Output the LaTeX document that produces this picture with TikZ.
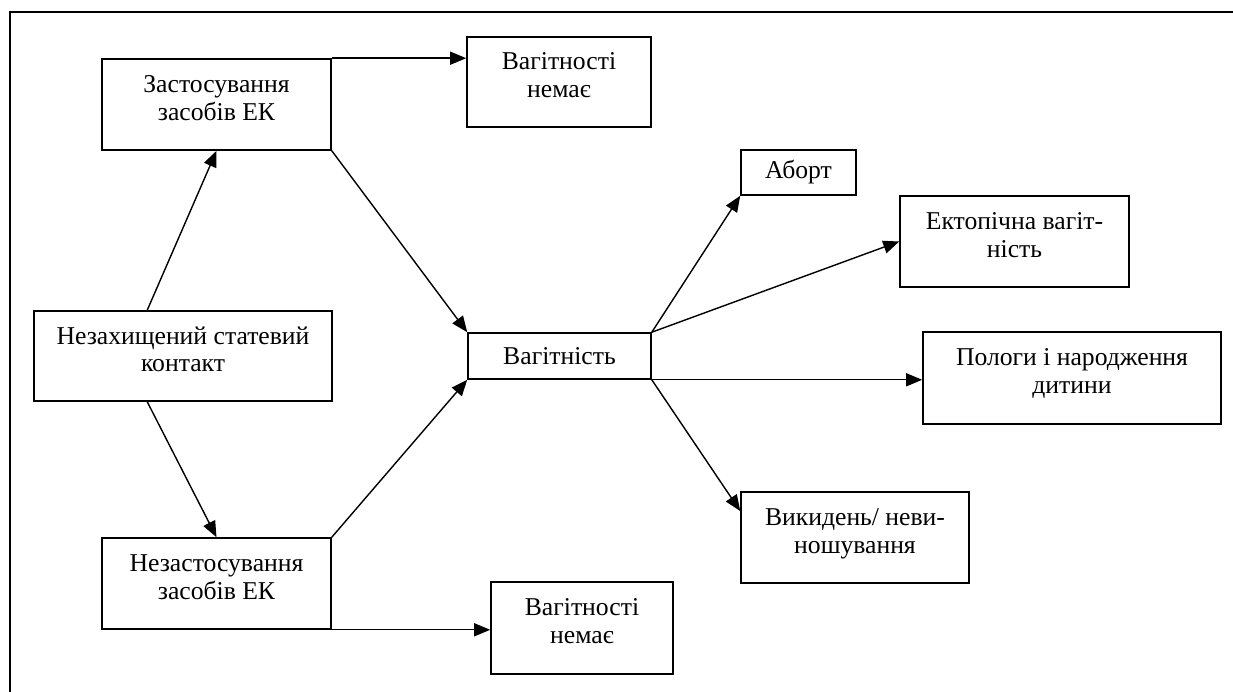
\documentclass[tikz,border=0pt]{standalone}
\usepackage{fontspec}
\setmainfont{Liberation Serif}
\usetikzlibrary{arrows.meta,positioning,calc}

\begin{document}
\begin{tikzpicture}[
    blok/.style={draw,line width=0.9pt,align=center,inner sep=2pt,
        font=\fontsize{14.6}{15.8}\selectfont},
    dvarjad/.style={blok,text depth=0.27cm},
    strilka/.style={-{Triangle[length=0.32cm,width=0.26cm]},line width=0.8pt}]
  \useasboundingbox (0,0) rectangle (24.66,-13.84);
  % Outer frame (top and left)
  \draw[line width=0.6pt] (0.2,-13.84) -- (0.2,-0.24) -- (24.66,-0.24);

  % Left column
  \node[dvarjad,minimum width=4.58cm,minimum height=1.82cm]
        (zast) at (4.33,-2.09) {Застосування\\засобів ЕК};
  \node[dvarjad,minimum width=5.96cm,minimum height=1.80cm]
        (nezakh) at (3.66,-7.12) {Незахищений статевий\\контакт};
  \node[dvarjad,minimum width=4.58cm,minimum height=1.82cm]
        (nezast) at (4.33,-11.67) {Незастосування\\засобів ЕК};

  % Middle column
  \node[dvarjad,minimum width=3.68cm,minimum height=1.80cm]
        (nemaie1) at (11.18,-1.64) {Вагітності\\немає};
  \node[blok,minimum width=3.66cm,minimum height=0.92cm]
        (vahit) at (11.19,-7.12) {Вагітність};
  \node[dvarjad,minimum width=3.64cm,minimum height=1.84cm]
        (nemaie2) at (11.64,-12.56) {Вагітності\\немає};

  % Right column (outcomes)
  \node[blok,minimum width=2.30cm,minimum height=0.90cm]
        (abort) at (15.97,-3.45) {Аборт};
  \node[dvarjad,minimum width=4.58cm,minimum height=1.82cm]
        (ektop) at (20.29,-4.83) {Ектопічна вагіт-\\ність};
  \node[dvarjad,minimum width=5.96cm,minimum height=1.84cm]
        (polohy) at (21.44,-7.56) {Пологи і народження\\дитини};
  \node[dvarjad,minimum width=4.56cm,minimum height=1.82cm]
        (vykyd) at (17.10,-10.75) {Викидень/ неви-\\ношування};

  % Arrows from the contact
  \draw[strilka] (nezakh.128) -- (zast.south);
  \draw[strilka] (nezakh.232) -- (nezast.north);

  % Arrows to pregnancy / no pregnancy
  \draw[strilka] (zast.north east) -- (zast.north east -| nemaie1.west);
  \draw[strilka] (zast.south east) -- (vahit.north west);
  \draw[strilka] (nezast.north east) -- (vahit.south west);
  \draw[strilka] (nezast.south east) -- (nezast.south east -| nemaie2.west);

  % Outcomes of pregnancy
  \draw[strilka] (vahit.north east) -- (abort.south west);
  \draw[strilka] (vahit.north east) -- (ektop.west);
  \draw[strilka] (vahit.south east) -- (vahit.south east -| polohy.west);
  \draw[strilka] (vahit.south east) -- (vykyd.167);
\end{tikzpicture}
\end{document}
